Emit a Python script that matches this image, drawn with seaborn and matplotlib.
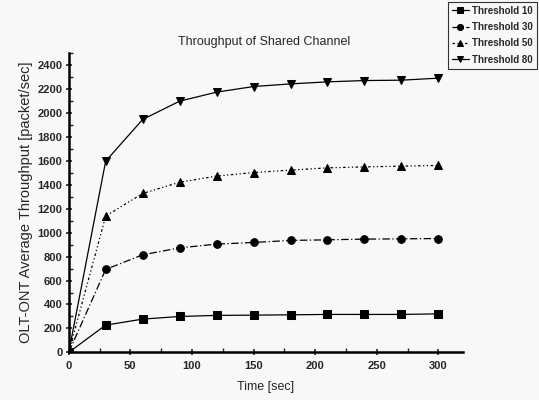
import numpy as np
import pandas as pd
import matplotlib
matplotlib.use("Agg")
import matplotlib.pyplot as plt
import seaborn as sns
from matplotlib.ticker import MultipleLocator

# data
time_sec = [0, 30, 60, 90, 120, 150, 180, 210, 240, 270, 300]
thr_10 = [0, 228, 278, 300, 309, 311, 314, 317, 317, 317, 322]
thr_30 = [0, 693, 815, 873, 904, 918, 935, 940, 946, 948, 951]
thr_50 = [0, 1138, 1327, 1421, 1472, 1502, 1522, 1541, 1549, 1555, 1561]
thr_80 = [0, 1597, 1945, 2098, 2173, 2220, 2242, 2259, 2270, 2273, 2290]
series_names = ["Threshold 10", "Threshold 30", "Threshold 50", "Threshold 80"]

sns.set_theme(style="ticks")
plt.rcParams["font.family"] = ["Liberation Sans", "DejaVu Sans"]

fig = plt.figure(figsize=(5.39, 4.0), dpi=100, facecolor="#f8f8f8")
ax = fig.add_axes([0.1275, 0.119, 0.7315, 0.7485])
ax.set_facecolor("#f8f8f8")

styles = [
    ("s", "-"),
    ("o", (0, (6, 2, 1, 2))),
    ("^", (0, (2, 2, 1, 2, 1, 2))),
    ("v", "-"),
]
for name, vals, (mk, ls) in zip(series_names, [thr_10, thr_30, thr_50, thr_80], styles):
    sns.lineplot(x=time_sec, y=vals, ax=ax, color="black", marker=mk, linestyle=ls,
                 markersize=5.5, linewidth=0.9, markeredgecolor="black", label=name)

ax.set_xlim(0, 320)
ax.set_ylim(0, 2500)
ax.xaxis.set_major_locator(MultipleLocator(50))
ax.xaxis.set_minor_locator(MultipleLocator(25))
ax.yaxis.set_minor_locator(MultipleLocator(100))
ax.set_yticks(range(0, 2401, 200))
ax.tick_params(which="major", direction="inout", length=5, width=1.2, labelsize=8, pad=2)
ax.tick_params(axis="x", which="major", pad=4)
ax.tick_params(which="minor", direction="in", length=3, width=1.0)
for lab in ax.get_xticklabels() + ax.get_yticklabels():
    lab.set_fontweight("bold")

sns.despine(ax=ax)
for s in ["left", "bottom"]:
    ax.spines[s].set_linewidth(1.8)
    ax.spines[s].set_color("black")

ax.set_xlabel("Time [sec]", fontsize=9, labelpad=7)
ax.set_ylabel("OLT-ONT Average Throughput [packet/sec]", fontsize=10.5, labelpad=3)
fig.text(0.49, 0.895, "Throughput of Shared Channel", fontsize=9, ha="center", va="center")

leg = ax.legend(loc="upper right", bbox_to_anchor=(1.0, 1.0), bbox_transform=fig.transFigure,
                fontsize=7, frameon=True, fancybox=False, handlelength=1.7,
                borderpad=0.4, labelspacing=0.65, handletextpad=0.4, borderaxespad=0.2,
                markerscale=0.8)
leg.get_frame().set_edgecolor("black")
leg.get_frame().set_linewidth(0.8)
leg.get_frame().set_facecolor("#f8f8f8")
for t in leg.get_texts():
    t.set_fontweight("bold")

fig.savefig("out.png", dpi=100, facecolor=fig.get_facecolor())
